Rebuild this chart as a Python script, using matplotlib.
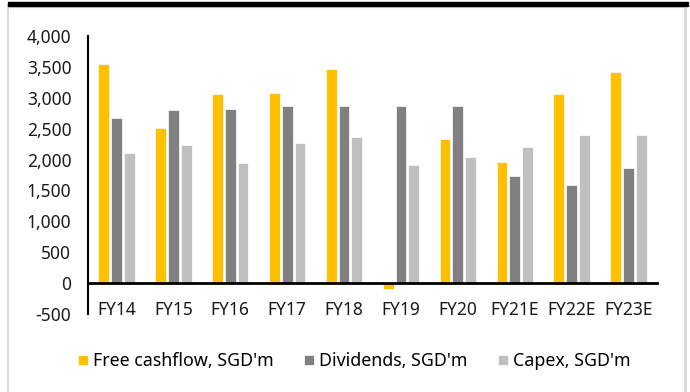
import numpy as np
import matplotlib.pyplot as plt
from matplotlib.patches import Rectangle
from matplotlib.lines import Line2D

years = ["FY14", "FY15", "FY16", "FY17", "FY18", "FY19", "FY20", "FY21E", "FY22E", "FY23E"]
fcf = [3550, 2510, 3060, 3070, 3470, -90, 2340, 1955, 3060, 3420]
dividends = [2680, 2800, 2820, 2870, 2870, 2870, 2870, 1730, 1585, 1865]
capex = [2110, 2240, 1950, 2270, 2365, 1915, 2040, 2210, 2405, 2405]
yticks = [-500, 0, 500, 1000, 1500, 2000, 2500, 3000, 3500, 4000]

plt.rcParams["font.family"] = ["Noto Sans", "DejaVu Sans"]

W, H = 690, 392
fig = plt.figure(figsize=(W / 100, H / 100), dpi=100)

# frame bits around the chart
fig.patches.append(Rectangle((8 / W, 1 - 6 / H), 680 / W, 4 / H, transform=fig.transFigure,
                             color="black", zorder=5))
fig.lines.append(Line2D([8 / W, 8 / W], [0, 1 - 6 / H], transform=fig.transFigure,
                        color="#d9d9d9", lw=1.5))
fig.lines.append(Line2D([685 / W, 685 / W], [0, 1 - 6 / H], transform=fig.transFigure,
                        color="#d9d9d9", lw=2))
fig.lines.append(Line2D([8 / W, 685 / W], [1 - 7 / H, 1 - 7 / H], transform=fig.transFigure,
                        color="#e3e3e3", lw=1))

ax = fig.add_axes([88 / W, 1 - 314 / H, (657 - 88) / W, (314 - 36) / H])

# spine position first, it resets the tick labels
ax.spines["top"].set_visible(False)
ax.spines["right"].set_visible(False)
ax.spines["bottom"].set_position(("data", 0))
ax.spines["bottom"].set_linewidth(2)
ax.spines["left"].set_linewidth(1.5)

x = np.arange(len(years))
bw = 0.19
step = 0.225
ax.bar(x - step, fcf, bw, color="#FFC000", edgecolor="white", linewidth=0.5, label="Free cashflow, SGD'm")
ax.bar(x, dividends, bw, color="#808080", edgecolor="white", linewidth=0.5, label="Dividends, SGD'm")
ax.bar(x + step, capex, bw, color="#BFBFBF", edgecolor="white", linewidth=0.5, label="Capex, SGD'm")

fs = 12.5
ax.set_xlim(-0.5, len(years) - 0.5)
ax.set_ylim(-500, 4000)
ax.set_yticks(yticks)
ax.set_yticklabels([f"{v:,}" for v in yticks], fontsize=fs, color="#1a1a1a")
ax.set_xticks(x)
ax.set_xticklabels(years, fontsize=fs, color="#1a1a1a")
ax.tick_params(axis="x", length=0, pad=13)
ax.tick_params(axis="y", length=0, pad=12)

ax.legend(loc="center left", bbox_to_anchor=(-0.03, -0.17), ncol=3, frameon=False,
          fontsize=12.8, handlelength=0.55, handleheight=0.55, handletextpad=0.3,
          columnspacing=1.7, borderaxespad=0)

fig.savefig("out.png", dpi=100)
